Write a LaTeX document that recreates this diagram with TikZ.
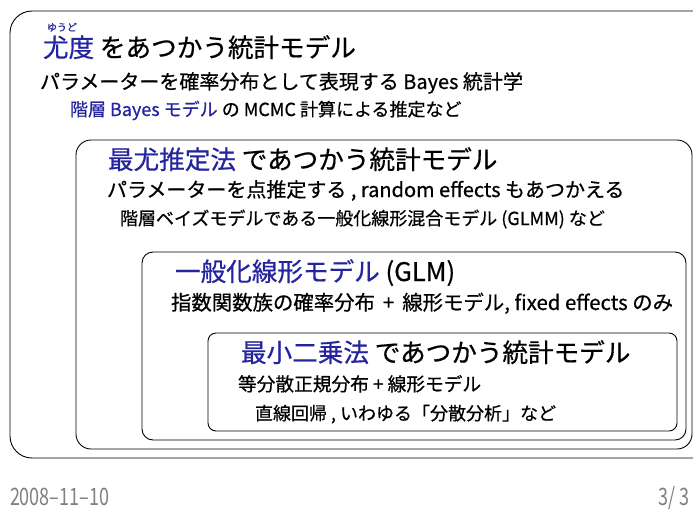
\documentclass[tikz,border=0pt]{standalone}
\usepackage{fontspec}
\setmainfont{Noto Sans CJK JP}[FakeBold=0.6]
\newfontfamily\cond{Noto Sans CJK JP}[FakeStretch=0.75]
\definecolor{struct}{rgb}{0.14,0.14,0.62}
\definecolor{foot}{rgb}{0.5,0.5,0.5}
\tikzset{
  frame/.style={draw=black, line width=0.9pt},
  txt/.style={anchor=base west, inner sep=0pt, outer sep=0pt},
  ttl/.style={txt, font=\fontsize{25.6}{25.6}\selectfont},
  sub/.style={txt, font=\fontsize{20}{20}\selectfont},
  sml/.style={txt, font=\fontsize{18}{18}\selectfont},
}
\begin{document}
\begin{tikzpicture}[x=1pt, y=-1pt]
\useasboundingbox (0,0) rectangle (693,509);
\clip (0,0) rectangle (693,509);
% boxes
\draw[frame, rounded corners=22pt] (10,11) rectangle (715,458);
\draw[frame, rounded corners=15pt] (76,140) rectangle (692,449);
\draw[frame, rounded corners=11pt] (142,252) rectangle (686,440);
\draw[frame, rounded corners=8pt] (208,333) rectangle (677,431);
% box 1
\node[ttl] (t1) at (43,57) {\textcolor{struct}{尤度} をあつかう統計モデル};
\node[anchor=base, inner sep=0pt, font=\fontsize{10}{10}\selectfont, text=struct] (r1) at (62,31) {ゆうど};
\node[sub] (s1) at (40,89) {パラメーターを確率分布として表現する Bayes 統計学};
\node[sml] (u1) at (70,116) {\textcolor{struct}{階層 Bayes モデル} の MCMC 計算による推定など};
% box 2
\node[ttl] (t2) at (108,169) {\textcolor{struct}{最尤推定法} であつかう統計モデル};
\node[sub] (s2) at (107,197) {パラメーターを点推定する , random effects もあつかえる};
\node[sml] (u2) at (120,225) {階層ベイズモデルである一般化線形混合モデル (GLMM) など};
% box 3
\node[ttl] (t3) at (175,281) {\textcolor{struct}{一般化線形モデル} (GLM)};
\node[sub, font=\fontsize{20.4}{20.4}\selectfont] (s3) at (171,310) {指数関数族の確率分布 \,+\, 線形モデル, fixed effects のみ};
% box 4
\node[ttl] (t4) at (241,362) {\textcolor{struct}{最小二乗法} であつかう統計モデル};
\node[sml, font=\fontsize{18.7}{18.7}\selectfont] (s4) at (238,391) {等分散正規分布 + 線形モデル};
\node[sml] (u4) at (255,420) {直線回帰 , いわゆる「分散分析」など};
% footer
\node[txt, font=\cond\fontsize{24}{24}\selectfont, text=foot] (d) at (10,505) {2008–11–10};
\node[anchor=base east, inner sep=0pt, font=\cond\fontsize{24}{24}\selectfont, text=foot] (p) at (690,505) {3/\ 3};
\end{tikzpicture}
\end{document}
